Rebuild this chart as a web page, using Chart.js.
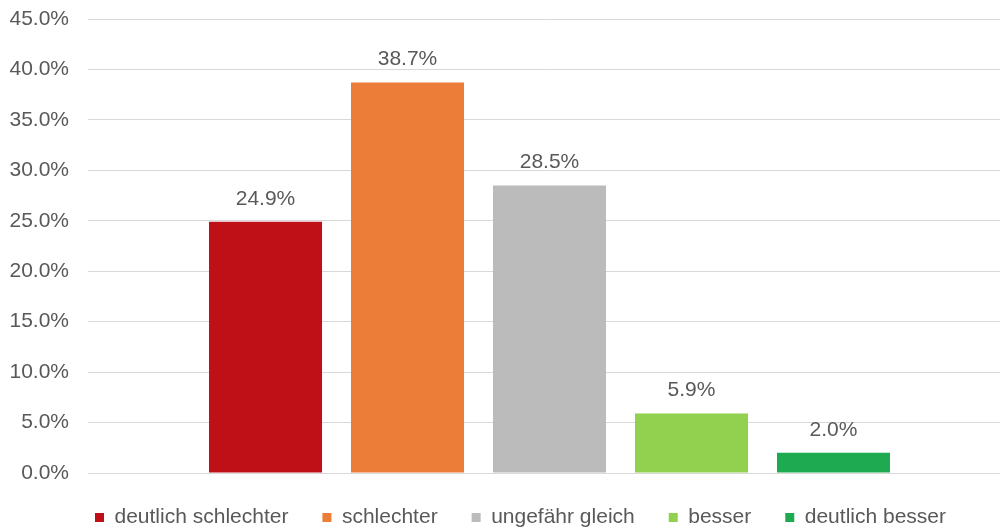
<!DOCTYPE html>
<html>
<head>
<meta charset="utf-8">
<script src="https://cdn.jsdelivr.net/npm/chart.js@4/dist/chart.umd.min.js"></script>
<style>
  html, body { margin: 0; padding: 0; background: #ffffff; overflow: hidden; }
  #wrap { position: absolute; left: 0; top: 0; width: 1011px; height: 538px; }
</style>
</head>
<body>
<div id="wrap"><canvas id="c" width="1011" height="538"></canvas></div>
<script>
// Answers to "how has it changed?" – one bar per answer
const categories = [''];
const seriesNames = ['deutlich schlechter', 'schlechter', 'ungefähr gleich', 'besser', 'deutlich besser'];
const seriesValues = [24.9, 38.7, 28.5, 5.9, 2.0];
const seriesColors = ['#BE1016', '#EB7D38', '#BBBBBB', '#92D050', '#1EAA50'];
const yTickValues = [0, 5, 10, 15, 20, 25, 30, 35, 40, 45];

const FONT = 'Liberation Sans, Arial, sans-serif';
const TEXT = '#595959';

const datasets = seriesNames.map((name, i) => ({
  label: name,
  data: [seriesValues[i]],
  backgroundColor: seriesColors[i],
  borderWidth: 0,
  categoryPercentage: 0.7692,
  barPercentage: 0.796
}));

// value labels above each bar
const valueLabels = {
  id: 'valueLabels',
  afterDatasetsDraw(chart) {
    const ctx = chart.ctx;
    ctx.save();
    ctx.font = '21px ' + FONT;
    ctx.fillStyle = TEXT;
    ctx.textAlign = 'center';
    ctx.textBaseline = 'middle';
    chart.data.datasets.forEach((ds, i) => {
      const meta = chart.getDatasetMeta(i);
      meta.data.forEach((bar, j) => {
        ctx.fillText(ds.data[j].toFixed(1) + '%', bar.x, bar.y - 23);
      });
    });
    ctx.restore();
  }
};

// move the legend row a little to the right
const legendShift = {
  id: 'legendShift',
  afterLayout(chart) {
    const lg = chart.legend;
    if (lg) { lg.left += 15; lg.right += 15; }
  }
};

new Chart(document.getElementById('c'), {
  type: 'bar',
  data: { labels: categories, datasets },
  options: {
    responsive: false,
    animation: false,
    devicePixelRatio: 1,
    layout: { padding: { left: 0, right: 0, top: 19, bottom: 0 } },
    scales: {
      x: { display: false },
      y: {
        min: 0,
        max: 45,
        afterBuildTicks(scale) { scale.ticks = yTickValues.map(v => ({ value: v })); },
        afterFit(scale) {
          scale.width = 88;
          scale.paddingTop = 0;
          scale.paddingBottom = 0;
        },
        border: { display: false },
        grid: { color: '#D9D9D9', lineWidth: 1, drawTicks: false },
        ticks: {
          padding: 19,
          color: TEXT,
          font: { family: FONT, size: 21 },
          callback: v => Number(v).toFixed(1) + '%'
        }
      }
    },
    plugins: {
      tooltip: { enabled: false },
      legend: {
        position: 'bottom',
        labels: {
          boxWidth: 9,
          boxHeight: 9,
          padding: 34,
          color: TEXT,
          font: { family: FONT, size: 21 }
        }
      }
    }
  },
  plugins: [valueLabels, legendShift]
});
</script>
</body>
</html>
